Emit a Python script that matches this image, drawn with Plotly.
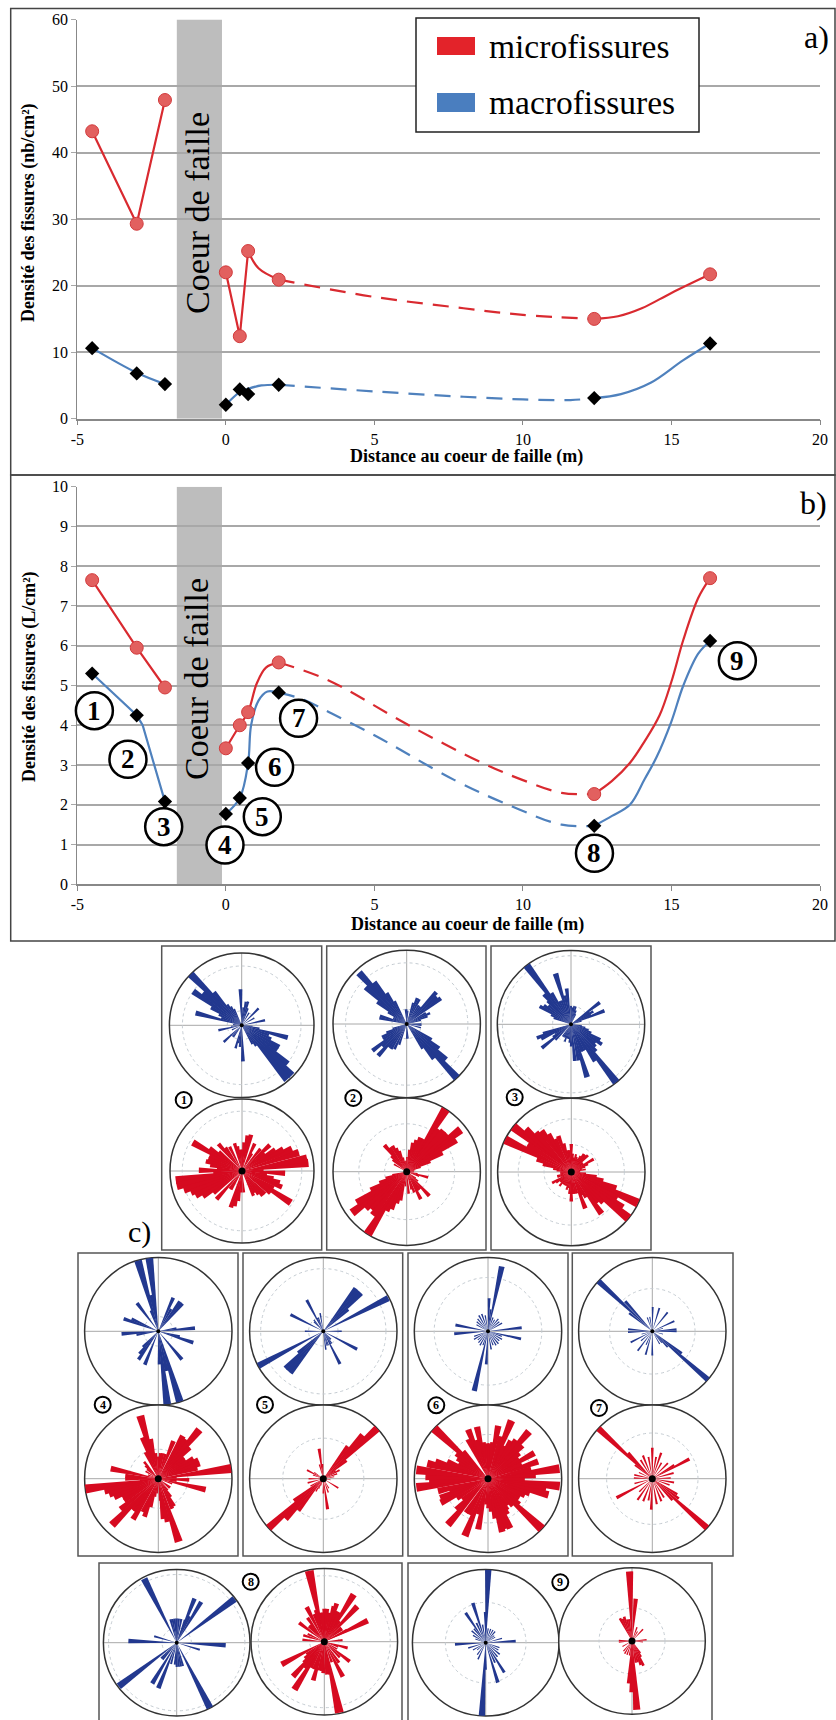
import plotly.graph_objects as go

# ---------- line charts: measured points ----------
DIST = [-4.5, -3, -2.05, 0, 0.47, 0.75, 1.78, 12.4, 16.3]
A_MICRO = [43.2, 29.3, 47.9, 22, 12.4, 25.2, 20.9, 15, 21.7]
A_MACRO = [10.6, 6.8, 5.2, 2.1, 4.4, 3.7, 5.1, 3.1, 11.3]
B_MICRO = [7.65, 5.95, 4.95, 3.42, 4.0, 4.33, 5.58, 2.27, 7.7]
B_MACRO = [5.3, 4.25, 2.08, 1.77, 2.17, 3.05, 4.82, 1.47, 6.12]

# curves: (x list, y list, dash, shape)
A_MICRO_CURVES = [
    ([-4.5, -3, -2.05], [43.2, 29.3, 47.9], False, "linear"),
    ([0, 0.47, 0.75], [22, 12.4, 25.2], False, "linear"),
    ([0.75, 1.1, 1.78], [25.2, 22.6, 20.9], False, "spline"),
    ([1.78, 5, 8, 10, 12.4], [20.9, 18.3, 16.6, 15.6, 15], True, "spline"),
    ([12.4, 13.2, 14, 15, 16.3], [15, 15.4, 16.6, 18.9, 21.7], False, "spline"),
]
A_MACRO_CURVES = [
    ([-4.5, -3, -2.05], [10.6, 6.9, 5.2], False, "spline"),
    ([0, 0.47, 0.75, 1.2, 1.78], [2.1, 4.0, 4.5, 5.0, 5.1], False, "spline"),
    ([1.78, 5, 8, 10, 11.6, 12.4], [5.1, 4.1, 3.3, 2.9, 2.8, 3.1], True, "spline"),
    ([12.4, 13.3, 14.3, 15.4, 16.3], [3.1, 3.7, 5.4, 8.8, 11.3], False, "spline"),
]
B_MICRO_CURVES = [
    ([-4.5, -3, -2.05], [7.65, 5.95, 4.95], False, "linear"),
    ([0, 0.47, 0.75, 1.04, 1.35, 1.78], [3.42, 4.0, 4.33, 5.05, 5.45, 5.58], False, "spline"),
    ([1.78, 3.4, 6.16, 8.67, 10, 11.3, 12.4], [5.58, 5.15, 4.0, 3.04, 2.62, 2.3, 2.27], True, "spline"),
    ([12.4, 13, 13.6, 14.1, 14.6, 15, 15.4, 15.9, 16.3], [2.27, 2.6, 3.05, 3.6, 4.25, 5.1, 6.15, 7.2, 7.7], False, "spline"),
]
B_MACRO_CURVES = [
    ([-4.5, -3, -2.8, -2.05], [5.3, 4.25, 4.0, 2.08], False, "linear"),
    ([0, 0.47, 0.75, 0.85, 1.1, 1.4, 1.78], [1.77, 2.17, 3.05, 4.0, 4.62, 4.85, 4.82], False, "spline"),
    ([1.78, 2.6, 3.55, 5, 7.7, 9.66, 11.3, 12.4], [4.82, 4.65, 4.3, 3.75, 2.62, 1.95, 1.5, 1.47], True, "spline"),
    ([12.4, 13, 13.6, 14.1, 14.5, 15, 15.4, 15.9, 16.3], [1.47, 1.72, 2.0, 2.65, 3.2, 4.1, 5.0, 5.8, 6.12], False, "spline"),
]

X_TICKS = [-5, 0, 5, 10, 15, 20]
X_LABELS = ["-5", "0", "5", "10", "15", "20"]
A_TICKS = [0, 10, 20, 30, 40, 50, 60]
B_TICKS = list(range(11))
CORE = [-1.65, -0.13]

# ---------- rose diagrams: (bearing in degrees, length as a share of the circle radius) ----------
R1B = [(285,.66),(290,.3),(295,.35),(300,.49),(305,.82),(310,.7),(315,1.0),(320,.6),(325,.35),(330,.3),(335,.25),(358,.5),(5,.25),(10,.33),(15,.34),(20,.25),(30,.2),(45,.33),(60,.2),(78,.33),(95,.15),(100,.25),(105,.66),(110,.4),(115,.45),(120,.6),(125,.6),(130,.83),(135,.98),(140,.98),(145,.35),(150,.3),(178,.5),(185,.3),(190,.25),(195,.33),(215,.2),(220,.2),(227,.34),(245,.15),(258,.33),(265,.15),(275,.12)]
R1M = [(83,.93),(79,.92),(72,.83),(66,.76),(62,.65),(57,.55),(52,.4),(47,.53),(40,.4),(30,.28),(25,.42),(14,.52),(9,.5),(4,.4),(0,.3),(355,.3),(350,.35),(345,.4),(333,.38),(325,.4),(319,.5),(310,.42),(305,.55),(300,.79),(295,.5),(290,.5),(285,.52),(280,.45),(275,.35),(271,.6),(265,.4),(262,.93),(257,.93),(252,.85),(247,.77),(242,.73),(237,.65),(232,.5),(222,.53),(215,.3),(210,.3),(197,.53),(192,.5),(187,.42),(182,.3),(175,.3),(155,.38),(150,.35),(145,.4),(140,.45),(135,.45),(128,.5),(123,.81),(118,.5),(112,.6),(107,.55),(103,.45),(98,.35),(93,.6),(88,.3)]
R2B = [(317,.95),(322,.72),(312,.75),(307,.5),(327,.5),(332,.35),(355,.2),(0,.2),(5,.18),(282,.38),(287,.38),(292,.2),(297,.2),(302,.3),(53,.58),(48,.55),(43,.59),(65,.35),(60,.3),(38,.3),(33,.3),(27,.38),(22,.38),(17,.3),(70,.3),(75,.2),(137,1.0),(132,.72),(127,.55),(142,.6),(147,.4),(122,.4),(90,.2),(95,.2),(105,.2),(180,.2),(175,.2),(232,.59),(222,.58),(206,.38),(212,.4),(217,.4),(227,.45),(237,.38),(242,.38),(247,.3),(252,.2),(200,.3)]
R2M = [(32,1.0),(37,.72),(52,.93),(57,.8),(47,.75),(42,.75),(62,.55),(67,.35),(27,.5),(22,.5),(17,.45),(12,.4),(7,.3),(320,.47),(331,.4),(325,.4),(336,.35),(341,.3),(346,.2),(351,.15),(356,.15),(1,.2),(300,.2),(310,.25),(315,.3),(72,.2),(77,.12),(82,.1),(90,.1),(100,.15),(105,.3),(110,.18),(212,1.0),(233,.93),(228,.75),(238,.8),(223,.7),(218,.75),(207,.6),(243,.55),(248,.4),(253,.3),(258,.2),(202,.55),(197,.45),(192,.4),(185,.2),(137,.45),(153,.42),(175,.3),(160,.3),(165,.25),(148,.3),(143,.3),(130,.2),(125,.15)]
R3B = [(323,1.0),(328,.5),(343,.72),(348,.4),(353,.49),(338,.35),(333,.35),(300,.49),(305,.45),(310,.4),(315,.45),(318,.55),(295,.3),(290,.25),(0,.25),(5,.23),(10,.25),(15,.25),(20,.2),(25,.15),(53,.49),(68,.49),(60,.35),(64,.3),(56,.3),(73,.15),(142,1.0),(147,.6),(123,.5),(118,.45),(128,.42),(132,.45),(137,.5),(113,.3),(108,.25),(103,.2),(98,.15),(163,.75),(174,.5),(168,.5),(155,.4),(150,.4),(158,.4),(180,.3),(185,.25),(190,.2),(195,.2),(200,.25),(231,.51),(248,.5),(235,.3),(240,.25),(244,.45),(252,.4),(225,.3),(205,.2),(210,.2),(215,.2)]
R3M = [(308,1.0),(296,1.0),(302,.7),(313,.85),(318,.72),(324,.69),(329,.6),(334,.5),(340,.52),(345,.4),(350,.3),(355,.3),(0,.38),(5,.25),(10,.2),(15,.25),(20,.22),(25,.2),(30,.25),(35,.3),(40,.3),(45,.32),(50,.2),(55,.2),(60,.35),(65,.25),(70,.2),(75,.15),(80,.2),(85,.12),(90,.12),(285,.4),(280,.25),(290,.5),(275,.2),(270,.15),(265,.15),(115,1.0),(120,.72),(125,.85),(129,1.0),(134,.6),(110,.65),(105,.45),(100,.35),(95,.2),(139,.55),(144,.7),(150,.4),(155,.35),(159,.53),(165,.3),(170,.3),(175,.3),(180,.4),(185,.3),(190,.22),(195,.25),(200,.2),(205,.2),(210,.2),(215,.2),(220,.25),(225,.2),(230,.2),(235,.25),(240,.3),(245,.15),(250,.2),(255,.2),(260,.15)]
R4B = [(344,1.0),(353,1.0),(349,.5),(340,.3),(323,.48),(24,.5),(30,.35),(36,.5),(41,.5),(290,.5),(295,.4),(266,.5),(261,.3),(85,.5),(80,.25),(108,.5),(103,.3),(140,.5),(215,.47),(220,.4),(202,.49),(225,.3),(173,1.0),(163,1.0),(168,.55),(178,.45)]
R4M = [(344,.89),(339,.6),(334,.4),(349,.55),(354,.35),(0,.3),(5,.35),(10,.35),(16,.35),(22,.55),(30,.67),(35,.65),(40,.87),(45,.6),(50,.45),(55,.45),(60,.55),(65,.6),(70,.6),(75,.55),(82,1.0),(87,.25),(92,.42),(97,.25),(103,.66),(110,.2),(282,.66),(275,.45),(270,.45),(265,.25),(262,1.0),(257,.75),(252,.7),(247,.65),(242,.55),(237,.55),(231,.66),(225,.89),(220,.55),(215,.55),(212,.65),(205,.5),(200,.55),(195,.4),(190,.25),(185,.2),(175,.3),(173,.55),(168,.6),(162,.9),(155,.45),(150,.43),(145,.3),(140,.2),(130,.2),(125,.2),(320,.3),(315,.25),(310,.2),(300,.2),(290,.15)]
R5B = [(37,.73),(41,.73),(45,.73),(49,.45),(63,.99),(332,.48),(297,.5),(350,.25),(340,.2),(335,.2),(320,.2),(315,.18),(270,.25),(90,.25),(118,.52),(153,.5),(172,.25),(165,.2),(160,.2),(150,.2),(145,.2),(140,.15),(135,.15),(218,.72),(222,.72),(226,.72),(230,.45),(242,1.0)]
R5M = [(47,1.0),(42,.8),(37,.55),(52,.4),(57,.2),(352,.41),(357,.2),(345,.2),(298,.25),(305,.15),(290,.15),(270,.2),(255,.22),(122,.24),(172,.42),(180,.2),(160,.2),(150,.15),(100,.1),(80,.15),(70,.2),(62,.25),(228,1.0),(223,.75),(218,.55),(233,.5),(240,.2),(210,.2),(205,.15),(200,.1)]
R6B = [(12,.9),(2,.45),(7,.3),(281,.45),(266,.46),(84,.46),(103,.46),(193,.83),(183,.45),(320,.22),(330,.25),(340,.25),(350,.22),(20,.2),(30,.18),(40,.22),(50,.2),(60,.22),(110,.2),(120,.22),(130,.2),(140,.22),(150,.22),(160,.2),(170,.25),(200,.2),(210,.22),(220,.2),(230,.18),(240,.22),(250,.2),(300,.18),(310,.2)]
R6M = [(313,1.0),(318,.5),(308,.55),(303,.5),(298,.45),(338,.72),(348,.72),(333,.6),(343,.55),(353,.5),(358,.48),(3,.48),(11,.73),(7,.5),(22,.85),(17,.6),(41,.85),(36,.65),(31,.6),(26,.5),(61,.72),(56,.5),(46,.65),(51,.55),(71,.72),(66,.5),(82,.98),(86,.65),(77,.6),(96,.98),(101,.8),(105,.85),(91,.5),(110,.6),(115,.55),(120,.5),(125,.5),(129,.55),(133,1.0),(138,.5),(143,.45),(148,.5),(151,.55),(156,.74),(161,.72),(165,.75),(170,.55),(175,.45),(180,.4),(185,.35),(191,.7),(196,.5),(202,.84),(208,.55),(213,.55),(221,.83),(226,.6),(231,.45),(237,.5),(243,.72),(248,.7),(252,.55),(256,.7),(263,.98),(267,.8),(272,.85),(277,.98),(284,.85),(288,.75),(293,.6)]
R7B = [(313,1.0),(318,.55),(308,.4),(131,1.0),(127,.5),(136,.3),(1,.33),(17,.33),(39,.33),(65,.33),(90,.33),(85,.33),(268,.33),(275,.33),(243,.33),(217,.33),(196,.33),(180,.33),(150,.2),(140,.2),(350,.2),(340,.2),(75,.15),(105,.15),(205,.2),(230,.2),(255,.15)]
R7M = [(313,1.0),(132,1.0),(317,.48),(308,.3),(0,.42),(338,.34),(19,.37),(62,.57),(58,.35),(75,.3),(100,.3),(242,.55),(272,.25),(282,.25),(202,.33),(182,.42),(158,.33),(127,.45),(122,.4),(137,.4),(10,.3),(30,.25),(45,.3),(88,.25),(110,.25),(148,.3),(170,.35),(190,.3),(215,.35),(225,.25),(255,.25),(295,.2),(328,.3),(350,.3)]
R8B = [(333,.98),(53,.99),(233,.99),(153,1.0),(272,.66),(93,.67),(286,.32),(107,.33),(22,.65),(31,.65),(20,.33),(26,.4),(345,.33),(350,.33),(355,.33),(0,.33),(5,.33),(11,.33),(211,.65),(202,.67),(195,.3),(185,.3),(180,.33),(175,.33),(170,.33),(165,.33),(220,.3),(225,.3)]
R8M = [(348,.99),(168,.99),(32,.76),(43,.66),(64,.66),(18,.55),(63,.35),(333,.53),(307,.43),(287,.3),(275,.3),(85,.25),(105,.33),(128,.44),(152,.54),(170,.45),(182,.43),(196,.55),(212,.77),(222,.64),(242,.66),(0,.45),(5,.45),(10,.4),(15,.5),(23,.45),(27,.45),(37,.35),(50,.3),(55,.3),(340,.4),(345,.45),(353,.4),(356,.4),(320,.3),(325,.4),(315,.3),(295,.25),(230,.35),(235,.3),(225,.4),(217,.45),(207,.4),(201,.4),(190,.4),(185,.4),(175,.45),(160,.3),(145,.35),(135,.3),(120,.2),(110,.2)]
R9B = [(2,1.0),(183,1.0),(359,.42),(342,.57),(326,.49),(335,.3),(267,.42),(87,.41),(253,.25),(75,.23),(148,.48),(163,.57),(180,.37),(205,.25),(350,.25),(10,.2),(20,.2),(30,.2),(40,.2),(50,.15),(60,.15),(110,.2),(120,.2),(130,.25),(140,.25),(155,.3),(215,.2),(230,.15),(240,.2),(290,.15),(300,.2),(310,.25),(320,.25)]
R9M = [(358,.95),(5,.58),(332,.35),(337,.33),(342,.35),(347,.3),(352,.3),(43,.22),(85,.2),(272,.18),(265,.18),(176,.94),(180,.7),(184,.58),(155,.37),(210,.2),(240,.15),(200,.2),(165,.3),(160,.35),(150,.25),(145,.2),(20,.2),(95,.15),(170,.3),(190,.2),(220,.18),(30,.15)]

# ---------- page layout in pixels ----------
W, H = 836, 1720
XPX = (77.3, 820)
AY = (418.7, 19.5)
BY = (884.3, 486.7)
RED, BLUE = "#d92a30", "#4f81bd"
ROSE_RED, ROSE_BLUE = "#d60a20", "#22388f"
GRID = "#a8a8a8"
SERIF = "Liberation Serif"

def px(x): return x / W
def py(y): return 1 - y / H

fig = go.Figure()

def add_panel(xa, ya, micro, macro, micro_c, macro_c):
    for curves, col in ((macro_c, BLUE), (micro_c, RED)):
        for xs, ys, dashed, shape in curves:
            fig.add_trace(go.Scatter(x=xs, y=ys, mode="lines", xaxis=xa, yaxis=ya, showlegend=False,
                                     hoverinfo="skip",
                                     line=dict(color=col, width=2.2, shape=shape, smoothing=1.0,
                                               dash="16px,10px" if dashed else "solid")))
    fig.add_trace(go.Scatter(x=DIST, y=micro, mode="markers", xaxis=xa, yaxis=ya, showlegend=False,
                             name="microfissures",
                             marker=dict(symbol="circle", size=13, color="#e2605f",
                                         line=dict(color="#d23a3c", width=1))))
    fig.add_trace(go.Scatter(x=DIST, y=macro, mode="markers", xaxis=xa, yaxis=ya, showlegend=False,
                             name="macrofissures",
                             marker=dict(symbol="diamond", size=11, color="black")))

add_panel("x", "y", A_MICRO, A_MACRO, A_MICRO_CURVES, A_MACRO_CURVES)
add_panel("x2", "y2", B_MICRO, B_MACRO, B_MICRO_CURVES, B_MACRO_CURVES)

axis_font = dict(family=SERIF, size=16, color="black")
xcommon = dict(range=[-5, 20], tickvals=X_TICKS, ticktext=X_LABELS, domain=[px(XPX[0]), px(XPX[1])], showgrid=False,
               zeroline=False, showline=True, linecolor="#888", linewidth=1.5, ticks="outside", ticklen=5,
               tickcolor="#888", tickfont=axis_font, automargin=False)
ycommon = dict(showgrid=True, gridcolor=GRID, gridwidth=2, zeroline=False, showline=True, linecolor="#888",
               linewidth=1, ticks="outside", ticklen=5, tickcolor=GRID, tickfont=axis_font, automargin=False)
fig.update_layout(
    xaxis=dict(anchor="y", **xcommon),
    yaxis=dict(anchor="x", range=[0, 60], tickvals=A_TICKS, domain=[py(AY[0]), py(AY[1])], **ycommon),
    xaxis2=dict(anchor="y2", **xcommon),
    yaxis2=dict(anchor="x2", range=[0, 10], tickvals=B_TICKS, domain=[py(BY[0]), py(BY[1])], **ycommon),
)

shapes, annots = [], []

def rect(x0, y0, x1, y1, line="#444", lw=1.5, fill=None):
    shapes.append(dict(type="rect", xref="paper", yref="paper", x0=px(x0), x1=px(x1), y0=py(y1), y1=py(y0),
                       line=dict(color=line, width=lw), fillcolor=fill, layer="above"))

def text(x, y, s, size, bold=False, angle=0, anchor="center"):
    annots.append(dict(xref="paper", yref="paper", x=px(x), y=py(y), text=f"<b>{s}</b>" if bold else s, showarrow=False,
                       font=dict(family=SERIF, size=size, color="black"), textangle=angle,
                       xanchor=anchor, yanchor="middle"))

def badge(x, y, r, s, size, lw):
    shapes.append(dict(type="circle", xref="paper", yref="paper", x0=px(x - r), x1=px(x + r), y0=py(y + r), y1=py(y - r),
                       line=dict(color="black", width=lw), fillcolor="white", layer="above"))
    text(x, y, s, size, bold=True)

# core-of-fault bands
for xa, ya, top in (("x", "y", 60), ("x2", "y2", 10)):
    shapes.append(dict(type="rect", xref=xa, yref=ya, x0=CORE[0], x1=CORE[1], y0=0, y1=top,
                       fillcolor="#bdbdbd", line_width=0, layer="below"))
text(198, 213, "Coeur de faille", 34, angle=-90)
text(196, 679, "Coeur de faille", 34, angle=-90)

# outer frames
rect(10.7, 8.5, 835, 475)
rect(10.7, 475, 835, 941)

# legend of panel a
rect(416, 18, 699, 132, line="#222", lw=1.5, fill="white")
rect(437, 37, 475, 55, line=RED, lw=0, fill="#e3232a")
rect(437, 93, 475, 112, line=BLUE, lw=0, fill="#4a7ebf")
text(487, 46, "microfissures", 33.5, anchor="left")
text(487, 102, "macrofissures", 33.5, anchor="left")
text(816, 37, "a)", 32)
text(813, 503, "b)", 32)
text(139, 1232, "c)", 30)

# axis titles
text(29, 213, "Densité des fissures (nb/cm²)", 18, bold=True, angle=-90)
text(30, 677, "Densité des fissures (L/cm²)", 18, bold=True, angle=-90)
text(466, 457, "Distance au coeur de faille (m)", 18, bold=True)
text(467, 924, "Distance au coeur de faille (m)", 18, bold=True)

# numbered circles of panel b
for n, zx, zy in ((1, 177, 722), (2, 240, 868), (3, 307, 1070), (4, 422, 1125), (5, 492, 1040),
                  (6, 515, 892), (7, 560, 745), (8, 1115, 1150), (9, 1383, 572)):
    badge(zx / 1.8756, 470 + zy / 3, 18.5, str(n), 27, 2.5)

# rose frames
for x0, y0, x1, y1 in ((161.7, 946, 321.7, 1250), (326.7, 946, 486, 1250), (491, 946, 651, 1250),
                       (78, 1253, 238, 1556), (243, 1253, 402.7, 1556), (408, 1253, 568, 1556),
                       (572.3, 1253, 733, 1556), (99, 1563, 402, 1760), (408, 1563, 712, 1760)):
    rect(x0, y0, x1, y1, line="#555", lw=1.5)

for n, x, y in ((1, 183.7, 1100), (2, 353.3, 1098), (3, 514.7, 1097.3), (4, 102.7, 1404.7), (5, 265, 1404.7),
                (6, 436.3, 1405.3), (7, 599, 1408), (8, 250.7, 1581.7), (9, 560.3, 1582.3)):
    badge(x, y, 8, str(n), 12, 2)

# roses: (data, colour, centre x, centre y, radius, dashed rings, bar width in degrees)
ROSES = [
    (R1B, ROSE_BLUE, 241.7, 1025.3, 72.3, [.2, .82], 6), (R1M, ROSE_RED, 242, 1171, 72, [.2, .83], 7),
    (R2B, ROSE_BLUE, 406.7, 1024, 73.7, [.2, .83], 6), (R2M, ROSE_RED, 406.7, 1171.7, 73.7, [.3, .65], 7),
    (R3B, ROSE_BLUE, 571, 1024.3, 73.7, [.25, .93], 6), (R3M, ROSE_RED, 571.3, 1172, 73.7, [.37, .72], 7),
    (R4B, ROSE_BLUE, 158.3, 1331.3, 73.7, [.2], 6), (R4M, ROSE_RED, 158.3, 1478.7, 73.7, [.4], 7),
    (R5B, ROSE_BLUE, 323.3, 1331.3, 73.7, [.2, .85], 5), (R5M, ROSE_RED, 323.3, 1478.7, 73.7, [.55], 6),
    (R6B, ROSE_BLUE, 488, 1331.3, 73.7, [.73], 5), (R6M, ROSE_RED, 488, 1478.7, 73.7, [.6], 7),
    (R7B, ROSE_BLUE, 652.3, 1331.3, 73.7, [.58], 4.5), (R7M, ROSE_RED, 652.3, 1478.7, 73.7, [.62], 5),
    (R8B, ROSE_BLUE, 176.7, 1642.7, 73.3, [.2, .93], 5.5), (R8M, ROSE_RED, 324.3, 1641.7, 73.3, [.2, .9], 7),
    (R9B, ROSE_BLUE, 485.7, 1642.7, 73.3, [.55], 5), (R9M, ROSE_RED, 632, 1641, 73.3, [.45], 6),
]
for i, (data, col, cx, cy, r, rings, bw) in enumerate(ROSES, start=1):
    sub = f"polar{i}"
    fig.add_trace(go.Barpolar(theta=[d[0] for d in data], r=[d[1] for d in data], subplot=sub, width=bw,
                              marker=dict(color=col, line=dict(width=0)), showlegend=False))
    fig.add_trace(go.Scatterpolar(theta=[0], r=[0], subplot=sub, mode="markers", showlegend=False,
                                  marker=dict(color="black", size=7 if col == ROSE_RED else 4)))
    fig.update_layout({sub: dict(
        domain=dict(x=[px(cx - r), px(cx + r)], y=[py(cy + r), py(cy - r)]),
        bgcolor="white",
        barmode="overlay",
        radialaxis=dict(range=[0, 1], tickvals=rings, showticklabels=False, ticks="", showline=False,
                        gridcolor="#c5ccd2", griddash="dot", gridwidth=1, layer="below traces"),
        angularaxis=dict(rotation=90, direction="clockwise", tickvals=[0, 90, 180, 270], showticklabels=False,
                         ticks="", gridcolor="#a8a8a8", gridwidth=1, linecolor="#333", linewidth=1.5,
                         showline=True, layer="below traces"),
    )})

fig.update_layout(width=W, height=H, autosize=False, margin=dict(l=0, r=0, t=0, b=0, pad=0, autoexpand=False),
                  paper_bgcolor="white", plot_bgcolor="white", shapes=shapes, annotations=annots,
                  showlegend=False)
fig.write_html("out.html", config={"displayModeBar": False},
               post_script="document.documentElement.style.margin='0';document.body.style.margin='0';")
